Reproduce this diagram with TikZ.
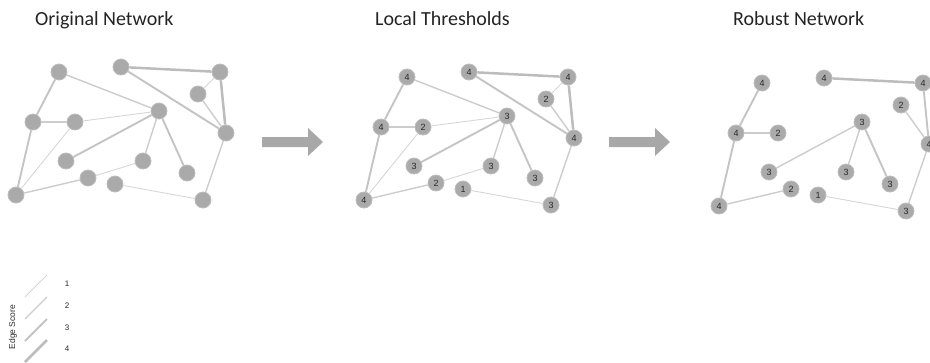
\documentclass[tikz,border=0pt]{standalone}
\usepackage{fontspec}
\setmainfont{Liberation Sans}
\newfontfamily\titlefont{Carlito}
\definecolor{ndgray}{RGB}{170,170,170}
\definecolor{ndring}{RGB}{188,188,188}
\definecolor{lblgray}{RGB}{40,40,40}
\definecolor{eg1}{RGB}{214,214,214}
\definecolor{eg2}{RGB}{204,204,204}
\definecolor{eg3}{RGB}{196,196,196}
\definecolor{eg4}{RGB}{188,188,188}
\definecolor{arrgray}{RGB}{168,168,168}
\definecolor{titlecol}{RGB}{35,35,35}
\begin{document}
\begin{tikzpicture}[x=1pt,y=-1pt,
  nd/.style={circle,fill=ndgray,draw=ndring,line width=0.8pt,minimum size=16pt,inner sep=0pt,
             font=\fontsize{9}{9}\selectfont,text=lblgray},
  e1/.style={draw=eg1,line width=0.9pt},
  e2/.style={draw=eg2,line width=1.4pt},
  e3/.style={draw=eg3,line width=1.9pt},
  e4/.style={draw=eg4,line width=2.5pt},
  ttl/.style={font=\titlefont\fontsize{20}{20}\selectfont,text=titlecol,anchor=base west,inner sep=0pt},
  bigarrow/.style={fill=arrgray,draw=none},
  legtxt/.style={font=\fontsize{8}{8}\selectfont,text=lblgray,inner sep=0pt}
]
\useasboundingbox (0,0) rectangle (930,362);
\clip (0,0) rectangle (930,362);

% titles
\node[ttl] (t1) at (35,25) {Original Network};
\node[ttl] (t2) at (375,25) {Local Thresholds};
\node[ttl] (t3) at (733,25) {Robust Network};

% panel 1
\begin{scope}
\foreach \n/\x/\y in {a/59/72,b/121/67,c/220/72,d/198/94,e/159/111,f/33/122,g/75/122,h/226/133,
                      i/66/161,j/143/161,k/187/173,l/88/178,m/115/184,n/16/195,o/203/200}
  \node[nd] (p1\n) at (\x,\y) {};
\foreach \u/\v/\s in {a/f/3,a/e/2,b/c/4,b/h/3,c/d/1,c/h/4,d/h/2,e/g/1,e/i/3,e/j/2,e/k/3,
                      f/g/2,f/n/3,g/n/1,n/l/2,l/j/1,m/o/1,h/o/2}
  \draw[e\s] (p1\u) -- (p1\v);
\end{scope}

% panel 2
\begin{scope}[shift={(348,5)}]
\foreach \n/\x/\y/\t in {a/59/72/4,b/121/67/4,c/220/72/4,d/198/94/2,e/159/111/3,f/33/122/4,g/75/122/2,h/226/133/4,
                      i/66/161/3,j/143/161/3,k/187/173/3,l/88/178/2,m/115/184/1,n/16/195/4,o/203/200/3}
  \node[nd] (p2\n) at (\x,\y) {\t};
\foreach \u/\v/\s in {a/f/3,a/e/2,b/c/4,b/h/3,c/d/1,c/h/4,d/h/2,e/g/1,e/i/3,e/j/2,e/k/3,
                      f/g/2,f/n/3,g/n/1,n/l/2,l/j/1,m/o/1,h/o/2}
  \draw[e\s] (p2\u) -- (p2\v);
\end{scope}

% panel 3
\begin{scope}[shift={(703,11)}]
\foreach \n/\x/\y/\t in {a/59/72/4,b/121/67/4,c/220/72/4,d/198/94/2,e/159/111/3,f/33/122/4,g/75/122/2,h/226/133/4,
                      i/66/161/3,j/143/161/3,k/187/173/3,l/88/178/2,m/115/184/1,n/16/195/4,o/203/200/3}
  \node[nd] (p3\n) at (\x,\y) {\t};
\foreach \u/\v/\s in {a/f/3,b/c/4,c/h/3,d/h/2,e/i/2,e/j/2,e/k/3,
                      f/g/2,f/n/3,n/l/2,m/o/1,h/o/2}
  \draw[e\s] (p3\u) -- (p3\v);
\end{scope}

% block arrows
\fill[bigarrow] (262,137) -- (308,137) -- (308,128) -- (323,142) -- (308,156) -- (308,147) -- (262,147) -- cycle;
\fill[bigarrow] (609,137) -- (655,137) -- (655,128) -- (670,142) -- (655,156) -- (655,147) -- (609,147) -- cycle;

% legend
\node[legtxt,rotate=90,font=\fontsize{8.5}{8.5}\selectfont] (legt) at (13,327) {Edge Score};
\foreach \k/\y in {1/286,2/308,3/330,4/351}{
  \coordinate (ls\k) at (25,\y+11);
  \coordinate (le\k) at (47,\y-11);
  \draw[e\k] (ls\k) -- (le\k);
  \node[legtxt] (ll\k) at (67,\y-2) {\k};
}
\end{tikzpicture}
\end{document}
